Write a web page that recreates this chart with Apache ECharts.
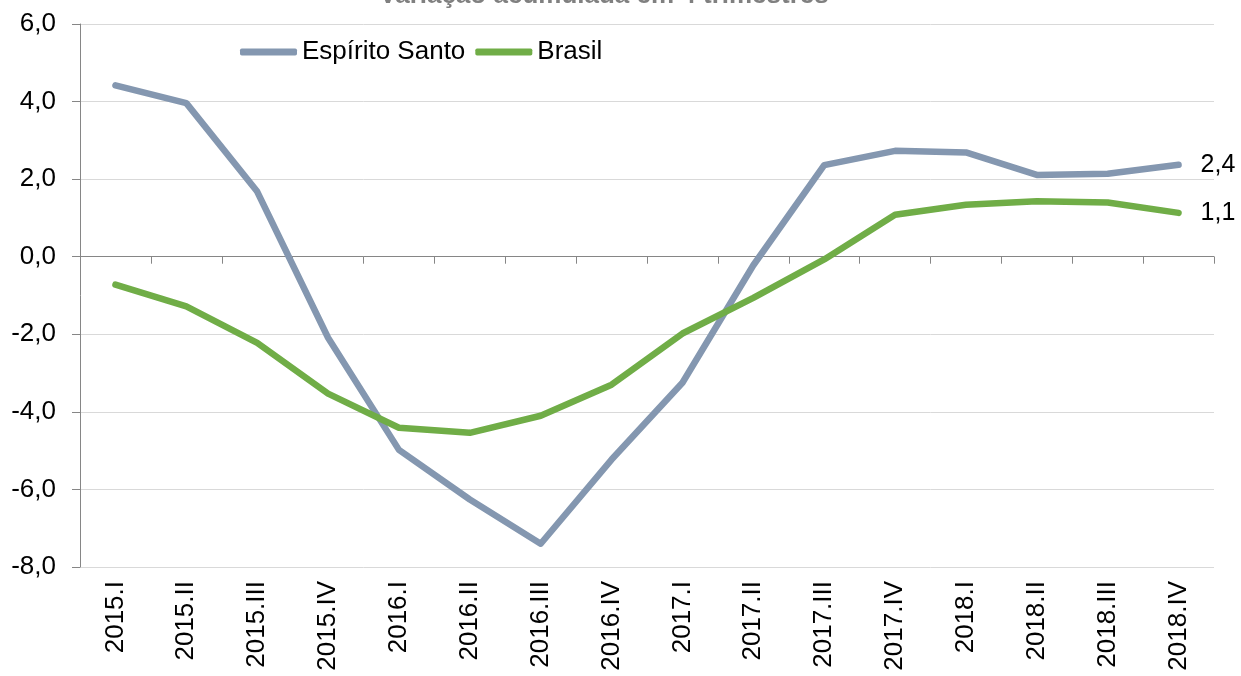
<!DOCTYPE html>
<html>
<head>
<meta charset="utf-8">
<script src="https://cdn.jsdelivr.net/npm/echarts@6/dist/echarts.min.js"></script>
<style>
html,body{margin:0;padding:0;background:#fff;}
#chart{width:1241px;height:676px;}
</style>
</head>
<body>
<div id="chart"></div>
<script>
const categories = ['2015.I','2015.II','2015.III','2015.IV','2016.I','2016.II','2016.III','2016.IV','2017.I','2017.II','2017.III','2017.IV','2018.I','2018.II','2018.III','2018.IV'];
const espiritoSanto = [4.42, 3.96, 1.68, -2.09, -4.98, -6.26, -7.40, -5.23, -3.25, -0.22, 2.36, 2.73, 2.69, 2.11, 2.14, 2.37];
const brasil = [-0.72, -1.28, -2.22, -3.53, -4.41, -4.54, -4.10, -3.30, -1.98, -1.06, -0.07, 1.08, 1.34, 1.43, 1.40, 1.13];
const seriesNames = ['Espírito Santo', 'Brasil'];
const titleText = 'Variação acumulada em 4 trimestres';

const fmt = v => Number(v).toFixed(1).replace('.', ',');
const FONT = '"Liberation Sans", Arial, sans-serif';

const chart = echarts.init(document.getElementById('chart'), null, {renderer: 'canvas'});
chart.setOption({
  animation: false,
  backgroundColor: '#ffffff',
  textStyle: {fontFamily: FONT},
  title: {
    text: titleText,
    left: 604,
    textAlign: 'center',
    top: -17,
    padding: 0,
    textStyle: {fontFamily: FONT, fontSize: 26, fontWeight: 'bold', color: '#808080'}
  },
  legend: {
    data: seriesNames,
    left: 240,
    top: 39,
    itemWidth: 57,
    itemHeight: 7,
    itemGap: 10,
    icon: 'roundRect',
    padding: 0,
    textStyle: {fontFamily: FONT, fontSize: 26, color: '#000'}
  },
  grid: {left: 80, right: 27, top: 24, bottom: 109, containLabel: false},
  xAxis: [
    {
      type: 'category',
      data: categories,
      boundaryGap: true,
      position: 'bottom',
      axisLine: {show: false, onZero: false},
      axisTick: {show: false},
      axisLabel: {rotate: 90, margin: 14, fontFamily: FONT, fontSize: 26, color: '#000', interval: 0},
      splitLine: {show: false}
    },
    {
      type: 'category',
      data: categories,
      boundaryGap: true,
      position: 'top',
      axisLine: {show: true, onZero: true, lineStyle: {color: '#868686', width: 1}},
      axisTick: {show: true, inside: true, length: 7, interval: 0, lineStyle: {color: '#868686', width: 1}},
      axisLabel: {show: false},
      splitLine: {show: false}
    }
  ],
  yAxis: {
    type: 'value',
    min: -8,
    max: 6,
    interval: 2,
    axisLine: {show: true, lineStyle: {color: '#868686', width: 1}},
    axisTick: {show: true, length: 8, lineStyle: {color: '#868686'}},
    axisLabel: {formatter: v => fmt(v), margin: 24, fontFamily: FONT, fontSize: 26, color: '#000'},
    splitLine: {show: true, lineStyle: {color: '#d9d9d9', width: 1}}
  },
  series: [
    {
      name: seriesNames[0],
      type: 'line',
      xAxisIndex: 0,
      data: espiritoSanto,
      symbol: 'none',
      color: '#8497b0',
      lineStyle: {width: 6.5, color: '#8497b0', cap: 'round', join: 'round'},
      endLabel: {show: true, formatter: p => fmt(p.value), distance: 22, fontFamily: FONT, fontSize: 25, color: '#000'}
    },
    {
      name: seriesNames[1],
      type: 'line',
      xAxisIndex: 0,
      data: brasil,
      symbol: 'none',
      color: '#70ad47',
      lineStyle: {width: 6.5, color: '#70ad47', cap: 'round', join: 'round'},
      endLabel: {show: true, formatter: p => fmt(p.value), distance: 22, fontFamily: FONT, fontSize: 25, color: '#000'}
    }
  ]
});
</script>
</body>
</html>
